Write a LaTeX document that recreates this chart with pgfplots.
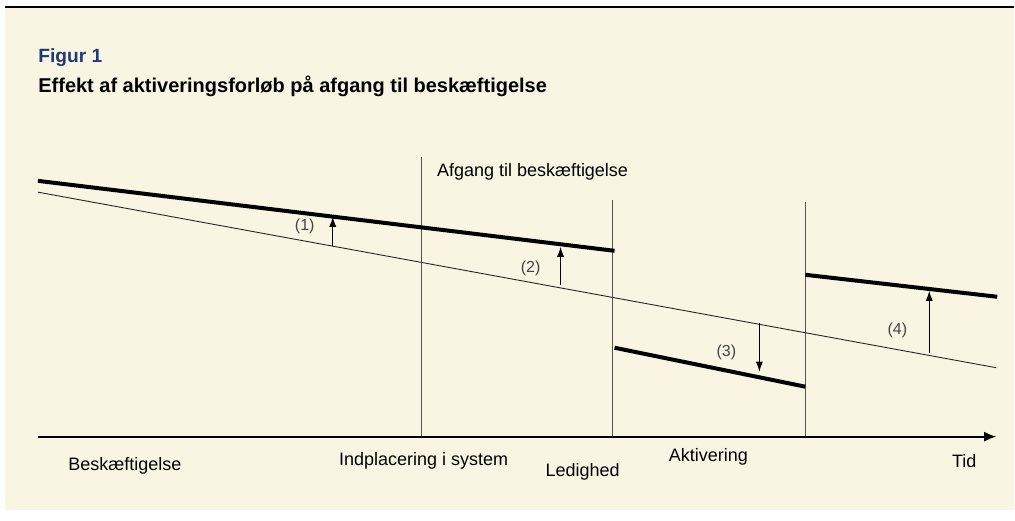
\documentclass[border=0pt]{standalone}
\usepackage{pgfplots}
\pgfplotsset{compat=1.18}
\usepackage{fontspec}
\setmainfont{Liberation Sans}
\usetikzlibrary{arrows.meta}
\definecolor{bg}{HTML}{F8F6E2}
\definecolor{navy}{HTML}{1F3A7A}
\definecolor{vline}{HTML}{555555}
\definecolor{lbl}{HTML}{444444}
\begin{document}
\begin{tikzpicture}
\begin{axis}[
  scale only axis, width=507.5pt, height=260.5pt,
  xmin=0, xmax=1015, ymin=0, ymax=521,
  hide axis, clip=false,
]
% full frame (invisible, fixes bounding box)
\addplot[draw=none] coordinates {(0,0) (1015,0) (1015,521) (0,521)};
% background
\addplot[draw=none, fill=bg] coordinates {(5,11) (1015,11) (1015,514) (5,514)} -- cycle;
\addplot[black, line width=0.8pt] coordinates {(5,514) (1015,514)};
% vertical lines
\addplot[vline, line width=0.6pt] coordinates {(422,364) (422,84)};
\addplot[vline, line width=0.6pt] coordinates {(613,321) (613,84)};
\addplot[vline, line width=0.6pt] coordinates {(806,319) (806,84)};
% time axis
\addplot[black, line width=0.9pt, -{Latex[length=6pt,width=5pt]}] coordinates {(38,84) (997,84)};
% baseline (thin)
\addplot[black!85, line width=0.45pt] coordinates {(38,328.7) (997,153)};
% thick segments
\addplot[black, line width=2pt] coordinates {(38,340) (615,270)};
\addplot[black, line width=2pt] coordinates {(615,173) (806,134)};
\addplot[black, line width=2pt] coordinates {(806,246) (998,224)};
% effect arrows
\addplot[black, line width=0.5pt, -{Latex[length=5pt,width=3.5pt]}] coordinates {(333,275) (333,304)};
\addplot[black, line width=0.5pt, -{Latex[length=5pt,width=3.5pt]}] coordinates {(561,236) (561,274)};
\addplot[black, line width=0.5pt, -{Latex[length=5pt,width=3.5pt]}] coordinates {(760,198) (760,149)};
\addplot[black, line width=0.5pt, -{Latex[length=5pt,width=3.5pt]}] coordinates {(930,168) (930,230)};
% labels
\node[lbl, font=\fontsize{8}{9}\selectfont] at (axis cs:305,294) {(1)};
\node[lbl, font=\fontsize{8}{9}\selectfont] at (axis cs:531,252) {(2)};
\node[lbl, font=\fontsize{8}{9}\selectfont] at (axis cs:727,168) {(3)};
\node[lbl, font=\fontsize{8}{9}\selectfont] at (axis cs:898,190) {(4)};
\node[anchor=west, inner sep=0pt, font=\fontsize{9}{10}\selectfont] at (axis cs:437,349) {Afgang til beskæftigelse};
\node[font=\fontsize{9}{10}\selectfont] at (axis cs:125,55) {Beskæftigelse};
\node[font=\fontsize{9}{10}\selectfont] at (axis cs:424,60) {Indplacering i system};
\node[font=\fontsize{9}{10}\selectfont] at (axis cs:583,49) {Ledighed};
\node[font=\fontsize{9}{10}\selectfont] at (axis cs:709,64) {Aktivering};
\node[font=\fontsize{9}{10}\selectfont] at (axis cs:965,60) {Tid};
% titles
\node[anchor=west, inner sep=0pt, text=navy, font=\bfseries\fontsize{9.6}{11}\selectfont] at (axis cs:38,463) {Figur 1};
\node[anchor=west, inner sep=0pt, font=\bfseries\fontsize{10}{12}\selectfont] at (axis cs:38,435) {Effekt af aktiveringsforløb på afgang til beskæftigelse};
\end{axis}
\end{tikzpicture}
\end{document}
